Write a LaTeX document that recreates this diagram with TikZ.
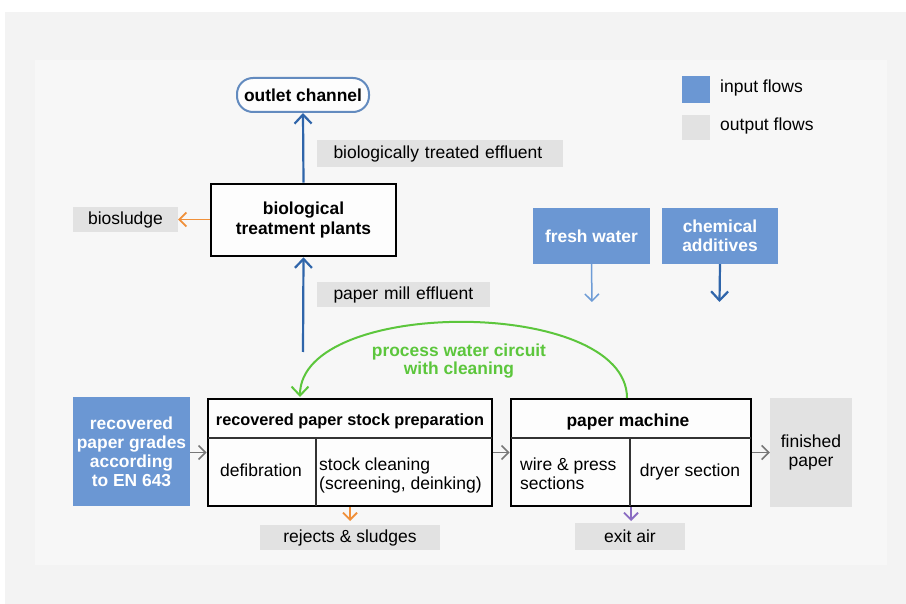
\documentclass[tikz,border=0pt]{standalone}
\usepackage{fontspec}
\setmainfont{Liberation Sans}
\usetikzlibrary{arrows.meta}
\definecolor{bgout}{HTML}{F3F3F3}
\definecolor{bgin}{HTML}{F7F7F7}
\definecolor{inblue}{HTML}{6B97D3}
\definecolor{outgray}{HTML}{E2E2E2}
\definecolor{flowblue}{HTML}{2F65AA}
\definecolor{lightflow}{HTML}{6E9CD6}
\definecolor{orangeflow}{HTML}{F0903A}
\definecolor{purpleflow}{HTML}{8A6CC2}
\definecolor{greenflow}{HTML}{5CC63C}
\definecolor{grayflow}{HTML}{777777}
\tikzset{
  flow/.style={line width=2.2pt,-{Straight Barb[length=9pt,width=17pt]}},
  smallflow/.style={line width=1.8pt,-{Straight Barb[length=7pt,width=14pt]}},
  procbox/.style={draw=black,line width=2.6pt,fill=white!70!bgin,inner sep=0pt},
  inbox/.style={fill=inblue,text=white,font=\fontsize{17.4}{19}\selectfont\bfseries,align=center,inner sep=0pt},
  outlbl/.style={fill=outgray,inner sep=0pt,align=center},
  divider/.style={draw=black!80,line width=1.4pt},
  txt/.style={inner sep=0pt,align=center},
  boldtxt/.style={font=\fontsize{17.4}{20}\selectfont\bfseries},
}
\begin{document}
\begin{tikzpicture}[x=1pt,y=-1pt,font=\fontsize{17.5}{19}\selectfont]
\useasboundingbox (0,0) rectangle (906,604);
\fill[white] (0,0) rectangle (906,604);
\fill[bgout] (5,12) rectangle (906,604);
\fill[bgin] (35,60) rectangle (887,565);

% legend
\node[fill=inblue,minimum width=28pt,minimum height=27pt,inner sep=0pt] (legin) at (696,89.5) {};
\node[txt,anchor=west] (legintxt) at (720,88) {input flows};
\node[fill=outgray,minimum width=28pt,minimum height=25pt,inner sep=0pt] (legout) at (696,127.5) {};
\node[txt,anchor=west] (legouttxt) at (720,126) {output flows};

% top part
\node[draw=flowblue!75,line width=2pt,rounded corners=16pt,fill=white!70!bgin,minimum width=132pt,minimum height=34pt,inner sep=0pt,boldtxt] (outlet) at (303,95) {outlet channel};
\node[procbox,minimum width=185pt,minimum height=72pt,align=center,boldtxt] (bio) at (303.5,220) {biological\\treatment plants};
\node[outlbl,minimum width=246pt,minimum height=27pt,text width=229pt,align=left] (treated) at (440,153.5) {\hspace*{8pt}biologically treated effluent};
\node[outlbl,minimum width=105pt,minimum height=25pt] (biosludge) at (125.5,219.5) {biosludge};
\node[outlbl,minimum width=173pt,minimum height=25pt,text width=160pt,align=left] (millefl) at (403.5,294.5) {\hspace*{10pt}paper mill effluent};

\draw[flow,flowblue] (bio.north) -- (outlet.south);
\coordinate (effstart) at (303,352);
\draw[flow,flowblue] (effstart) -- (bio.south);
\draw[smallflow,orangeflow] (bio.west |- biosludge.east) -- (biosludge.east);

% inputs
\node[inbox,minimum width=117pt,minimum height=56pt] (fresh) at (591.5,236) {fresh water};
\node[inbox,minimum width=116pt,minimum height=56pt] (chem) at (720,236) {chemical\\additives};
\coordinate (freshend) at (592,302);
\coordinate (chemend) at (719.5,302);
\draw[smallflow,lightflow,line width=1.5pt] (fresh.south) -- (freshend);
\draw[flow,flowblue] (chem.south) -- (chemend);

% process boxes
\node[inbox,minimum width=117pt,minimum height=109pt] (grades) at (131.5,451.5) {recovered\\paper grades\\according\\to EN 643};
\node[procbox,minimum width=284pt,minimum height=107pt] (prep) at (350,452.5) {};
\node[procbox,minimum width=240pt,minimum height=107pt] (pm) at (631,452.5) {};
\coordinate (prepH1) at (208,438); \coordinate (prepH2) at (492,438);
\coordinate (prepV1) at (316,438); \coordinate (prepV2) at (316,506);
\draw[divider] (prepH1) -- (prepH2);
\draw[divider] (prepV1) -- (prepV2);
\coordinate (pmH1) at (511,438); \coordinate (pmH2) at (751,438);
\coordinate (pmV1) at (630,438); \coordinate (pmV2) at (630,506);
\draw[divider] (pmH1) -- (pmH2);
\draw[divider] (pmV1) -- (pmV2);
\node[txt,font=\fontsize{16.3}{19}\selectfont\bfseries] (preptitle) at (350,421) {recovered paper stock preparation};
\node[txt] (defib) at (261,470) {defibration};
\node[txt,align=left,anchor=west] (clean) at (319,475) {stock cleaning\\(screening, deinking)};
\node[txt,boldtxt] (pmtitle) at (628,422) {paper machine};
\node[txt,align=left,anchor=west] (wire) at (520,473.5) {wire \& press\\sections};
\node[txt] (dryer) at (690,472) {dryer section};

\node[outlbl,minimum width=82pt,minimum height=109pt] (finished) at (811,452.5) {finished\\paper};

\draw[smallflow,grayflow,line width=1.6pt] (grades.east |- prep.east) -- (prep.west);
\draw[smallflow,grayflow,line width=1.6pt] (prep.east) -- (pm.west);
\draw[smallflow,grayflow,line width=1.6pt] (pm.east) -- (finished.west |- pm.east);

% outputs below
\node[outlbl,minimum width=180pt,minimum height=25pt] (rejects) at (350,537.5) {rejects \& sludges};
\node[outlbl,minimum width=110pt,minimum height=27pt] (exitair) at (630,536.5) {exit air};
\coordinate (rejend) at (350,521);
\coordinate (airend) at (631,521);
\draw[smallflow,orangeflow] (prep.south) -- (rejend);
\draw[smallflow,purpleflow] (pm.south) -- (airend);

% process water circuit
\coordinate (circstart) at (627,398);
\coordinate (circend) at (300,397);
\draw[flow,greenflow,line width=2pt] (circstart) .. controls (627,297) and (300,297) .. (circend);
\node[txt,text=greenflow,font=\fontsize{17.4}{16}\selectfont\bfseries] (circlbl) at (459,361) {process water circuit\\with cleaning};
\end{tikzpicture}
\end{document}
